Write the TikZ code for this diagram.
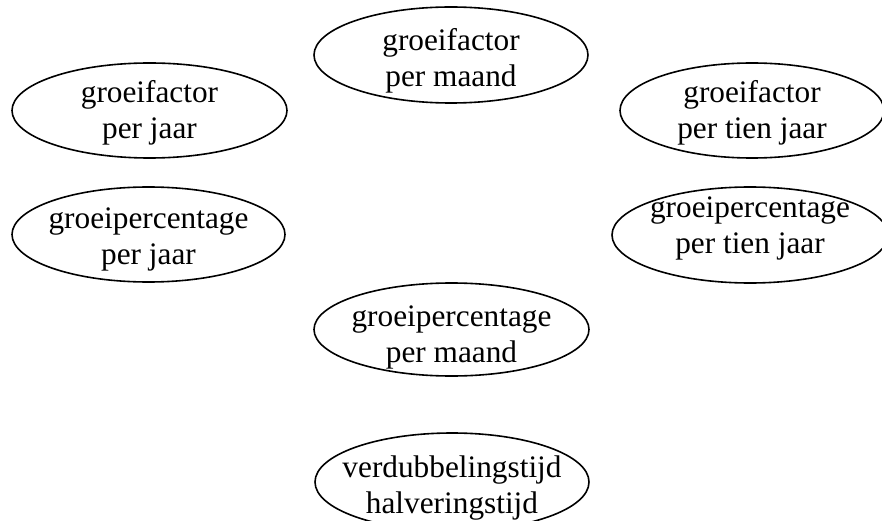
\documentclass[tikz,border=0pt]{standalone}
\usepackage{fontspec}
\setmainfont{Liberation Serif}
\usetikzlibrary{shapes.geometric}
\begin{document}
\begin{tikzpicture}[x=1pt,y=-1pt,
  oval/.style={draw=black,line width=1.6pt,ellipse,inner sep=0pt,
    minimum width=#1},
  oval/.default=275pt,
  lbl/.style={align=center,inner sep=0pt,font=\fontsize{31.3}{36}\selectfont}]
\useasboundingbox (0,0) rectangle (882,521);
\begin{scope}
\clip (0,0) rectangle (882,521);
\node[oval=274pt,minimum height=96pt] (e1) at (451,55) {};
\node[oval=275pt,minimum height=95pt] (e2) at (149.5,110.5) {};
\node[oval=264pt,minimum height=95pt] (e3) at (752,110.5) {};
\node[oval=273pt,minimum height=95pt] (e4) at (148.5,234.5) {};
\node[oval=276pt,minimum height=96pt] (e5) at (750,235) {};
\node[oval=275pt,minimum height=93pt] (e6) at (451.5,329.5) {};
\node[oval=274pt,minimum height=98pt] (e7) at (452,482) {};
\end{scope}
\node[lbl,yshift=-6pt] (t1) at (e1) {groeifactor\\per maand};
\node[lbl,yshift=-2.5pt] (t2) at (e2) {groeifactor\\per jaar};
\node[lbl,yshift=-2.5pt] (t3) at (e3) {groeifactor\\per tien jaar};
\node[lbl,yshift=-4.5pt] (t4) at (e4) {groeipercentage\\per jaar};
\node[lbl,yshift=7pt] (t5) at (e5) {groeipercentage\\per tien jaar};
\node[lbl,yshift=-8pt] (t6) at (e6) {groeipercentage\\per maand};
\node[lbl,yshift=-6pt] (t7) at (e7) {verdubbelingstijd\\halveringstijd};
\end{tikzpicture}
\end{document}
